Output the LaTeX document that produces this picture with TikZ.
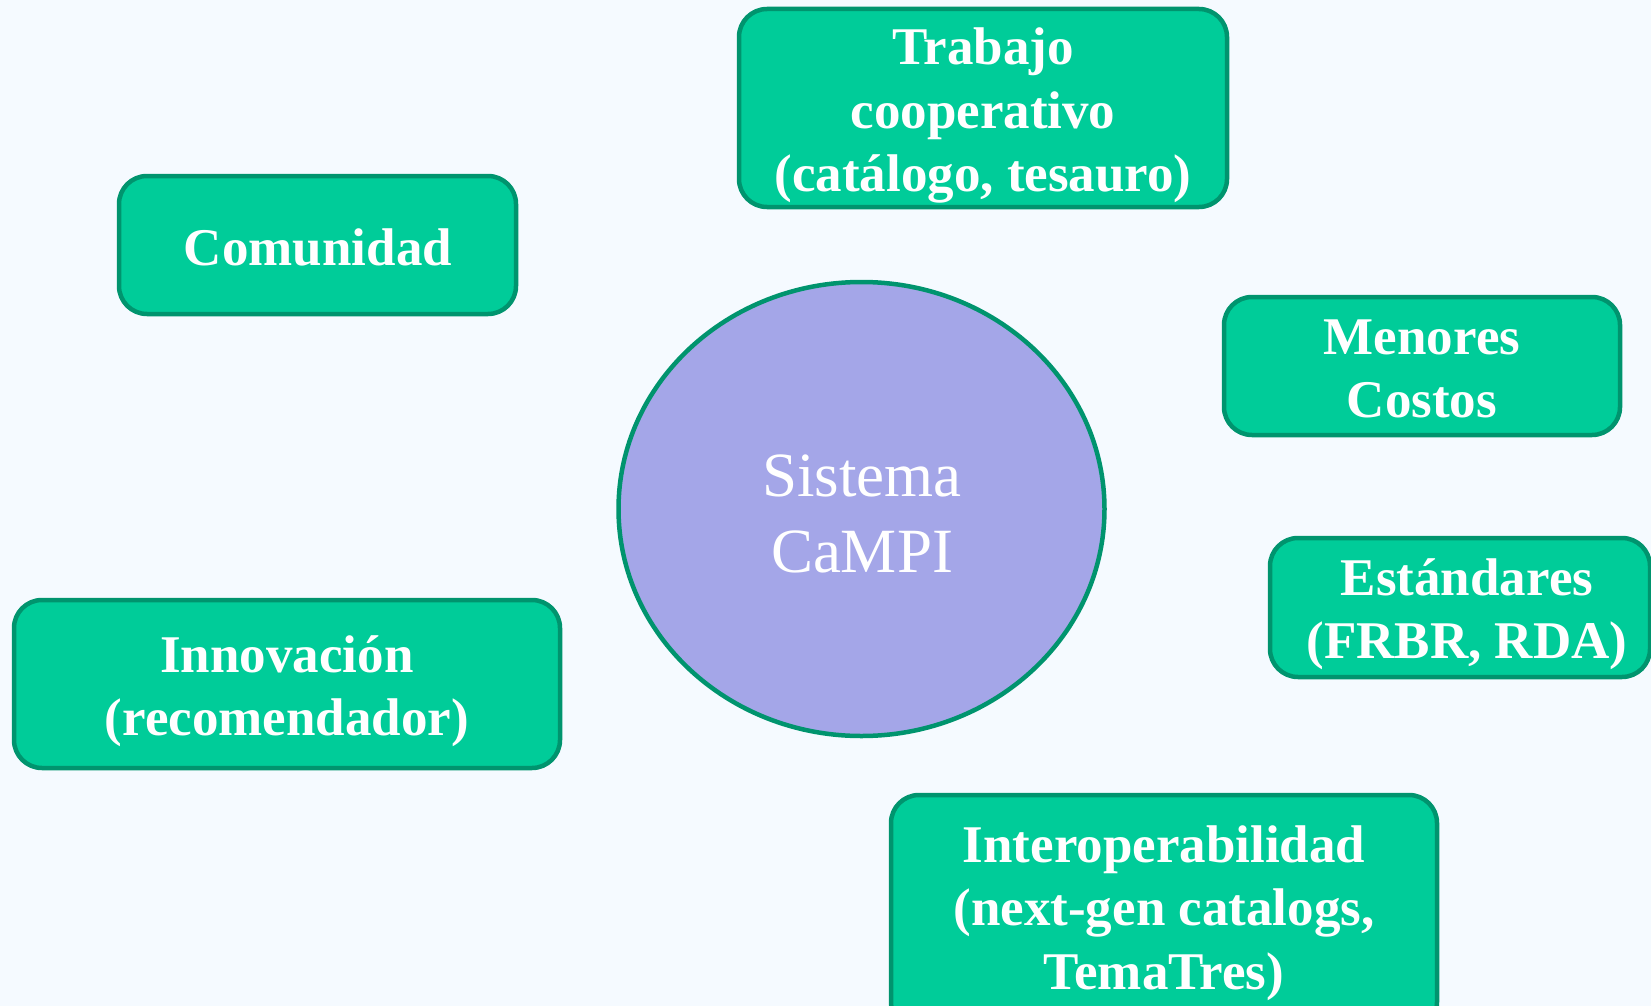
\documentclass[tikz,border=0pt]{standalone}
\usepackage{fontspec}
\setmainfont{Liberation Serif}
\usetikzlibrary{shapes.geometric}
\definecolor{bgc}{RGB}{245,250,255}
\definecolor{boxfill}{RGB}{0,204,153}
\definecolor{boxline}{RGB}{0,148,110}
\definecolor{ellfill}{RGB}{164,166,232}
\newcommand{\boxtext}[1]{\begin{tabular}[t]{@{}c@{}}#1\end{tabular}}
\begin{document}
\begin{tikzpicture}[x=1pt,y=-1pt,
  boxshape/.style={draw=boxline,fill=boxfill,line width=4.5pt,rounded corners=28pt},
  boxlabel/.style={anchor=base,inner sep=0pt,text=white,font=\fontsize{53}{63.5}\selectfont\bfseries},
  centerlabel/.style={anchor=base,inner sep=0pt,text=white,font=\fontsize{63}{76}\selectfont}]
\fill[bgc] (0,0) rectangle (1651,1006);
\useasboundingbox (0,0) rectangle (1651,1006);

% central ellipse
\node[ellipse,draw=boxline,fill=ellfill,line width=4.5pt,minimum width=486pt,minimum height=454pt,inner sep=0pt] (sistema) at (861.5,509) {};
\node[centerlabel] (sistematext) at (862,496) {\boxtext{Sistema\\CaMPI}};

% boxes
\draw[boxshape] (739,9) rectangle (1227,207);
\node[boxlabel] (trabajo) at (983,65) {\boxtext{Trabajo\\cooperativo\\(catálogo, tesauro)}};

\draw[boxshape] (119,176) rectangle (516,314);
\node[boxlabel] (comunidad) at (318,265) {\boxtext{Comunidad}};

\draw[boxshape] (1224,297) rectangle (1620,435);
\node[boxlabel] (menores) at (1422,354) {\boxtext{Menores\\Costos}};

\draw[boxshape] (1270,538) rectangle (1650,677);
\node[boxlabel] (estandares) at (1467,595) {\boxtext{Estándares\\(FRBR, RDA)}};

\draw[boxshape] (14,600) rectangle (560,768);
\node[boxlabel] (innovacion) at (287,672) {\boxtext{Innovación\\(recomendador)}};

\draw[boxshape] (891,795) rectangle (1437,1030);
\node[boxlabel] (interop) at (1164,862) {\boxtext{Interoperabilidad\\(next-gen catalogs,\\TemaTres)}};
\end{tikzpicture}
\end{document}
